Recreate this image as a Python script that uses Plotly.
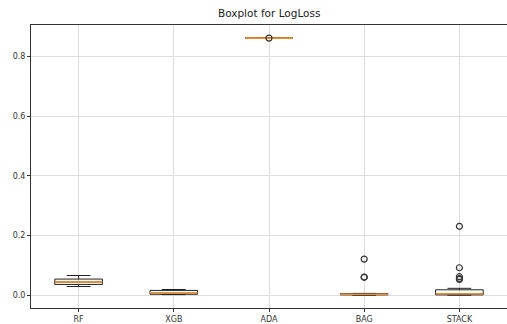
import plotly.graph_objects as go

# Summary statistics of the LogLoss distribution per model
models = ["RF", "XGB", "ADA", "BAG", "STACK"]
q1 = [0.036, 0.003, 0.862, 0.001, 0.001]
median = [0.044, 0.008, 0.862, 0.003, 0.005]
q3 = [0.054, 0.016, 0.862, 0.005, 0.018]
lower_whisker = [0.029, 0.002, 0.862, 0.000, 0.000]
upper_whisker = [0.066, 0.019, 0.862, 0.006, 0.023]
outliers = [
    [],
    [],
    [0.862],
    [0.121, 0.061, 0.060],
    [0.231, 0.092, 0.062, 0.056, 0.053],
]

positions = list(range(1, len(models) + 1))
box_w = 0.5

fig = go.Figure()

fig.add_trace(go.Box(
    x=positions,
    q1=q1, median=median, q3=q3,
    lowerfence=lower_whisker, upperfence=upper_whisker,
    width=box_w,
    whiskerwidth=0.5,
    line=dict(color="#222222", width=1),
    fillcolor="rgba(255,255,255,0)",
    boxpoints=False,
    showlegend=False,
    hoverinfo="skip",
))

# orange median segments drawn over each box
mx, my = [], []
for p, m in zip(positions, median):
    mx += [p - box_w / 2, p + box_w / 2, None]
    my += [m, m, None]
fig.add_trace(go.Scatter(
    x=mx, y=my, mode="lines",
    line=dict(color="#f28e2b", width=1.6),
    showlegend=False, hoverinfo="skip",
))

# flier points
ox, oy = [], []
for p, pts in zip(positions, outliers):
    for v in pts:
        ox.append(p)
        oy.append(v)
fig.add_trace(go.Scatter(
    x=ox, y=oy, mode="markers",
    marker=dict(symbol="circle-open", size=6, color="#333333",
                line=dict(width=1.2, color="#333333")),
    showlegend=False, hoverinfo="skip",
))

fig.update_layout(
    width=507, height=324,
    margin=dict(l=31, r=0, t=25, b=14),
    paper_bgcolor="white", plot_bgcolor="white",
    font=dict(family="DejaVu Sans", size=8, color="#333333"),
    title=dict(text="Boxplot for LogLoss", x=0.531, xanchor="center",
               y=1 - 13 / 324, yanchor="middle",
               font=dict(size=10.5, color="#222222")),
)
fig.update_xaxes(
    range=[0.5, 5.5],
    tickvals=positions, ticktext=models,
    showgrid=True, gridcolor="#dddddd", gridwidth=1,
    showline=True, linecolor="#333333", linewidth=1, mirror=True,
    ticks="outside", ticklen=3, tickcolor="#333333",
    zeroline=False,
)
fig.update_yaxes(
    range=[-0.043, 0.906],
    tickvals=[0.0, 0.2, 0.4, 0.6, 0.8],
    ticktext=["0.0", "0.2", "0.4", "0.6", "0.8"],
    showgrid=True, gridcolor="#dddddd", gridwidth=1,
    showline=True, linecolor="#333333", linewidth=1, mirror=False,
    ticks="outside", ticklen=3, tickcolor="#333333",
    zeroline=False,
)

fig.write_html("out.html")
